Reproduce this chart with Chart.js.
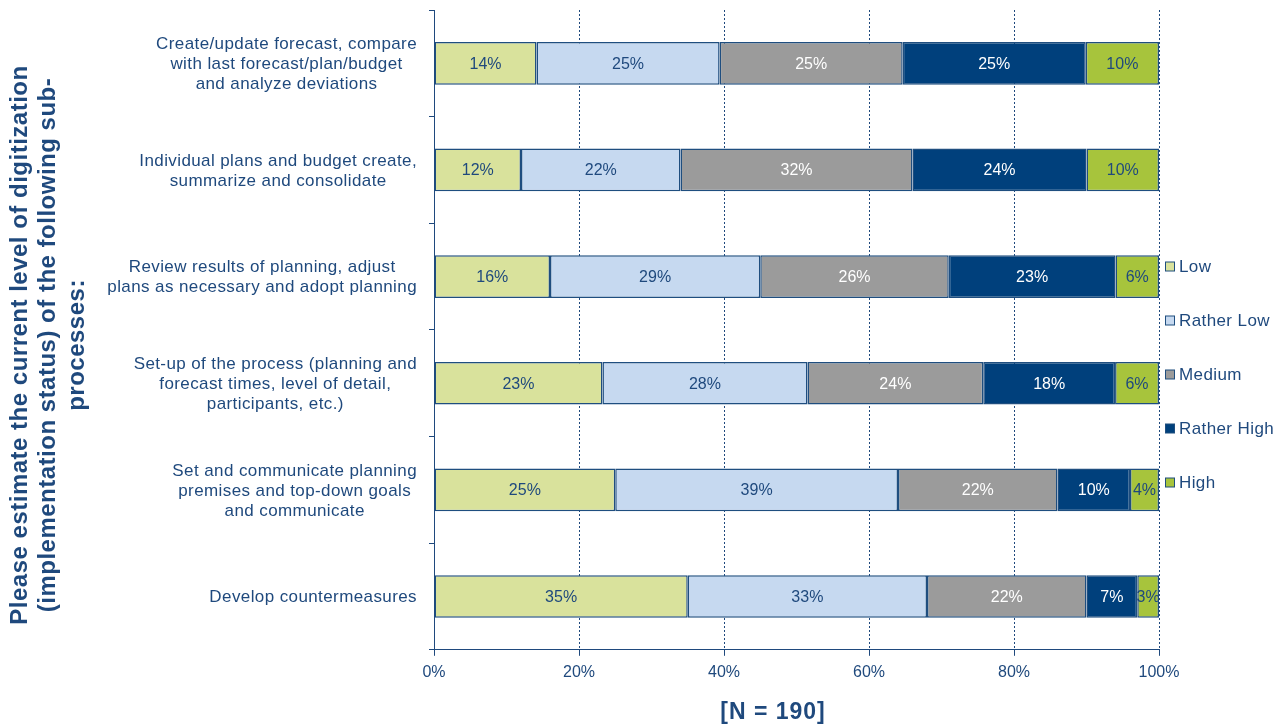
<!DOCTYPE html>
<html>
<head>
<meta charset="utf-8">
<script src="https://cdn.jsdelivr.net/npm/chart.js@4.4.1/dist/chart.umd.min.js"></script>
<style>
  html, body { margin: 0; padding: 0; background: #fff; }
  #wrap { width: 1287px; height: 726px; }
</style>
</head>
<body>
<div id="wrap"><canvas id="chart" width="1287" height="726"></canvas></div>
<script>
// categories (top to bottom), multi-line labels
const categories = [
  ['Create/update forecast, compare', 'with last forecast/plan/budget', 'and analyze deviations'],
  ['Individual plans and budget create,', 'summarize and consolidate'],
  ['Review results of planning, adjust', 'plans as necessary and adopt planning'],
  ['Set-up of the process (planning and', 'forecast times, level of detail,', 'participants, etc.)'],
  ['Set and communicate planning', 'premises and top-down goals', 'and communicate'],
  ['Develop countermeasures']
];
const seriesNames = ['Low', 'Rather Low', 'Medium', 'Rather High', 'High'];

// percentages as printed on the bars
const lowValues = [14, 12, 16, 23, 25, 35];
const ratherLowValues = [25, 22, 29, 28, 39, 33];
const mediumValues = [25, 32, 26, 24, 22, 22];
const ratherHighValues = [25, 24, 23, 18, 10, 7];
const highValues = [10, 10, 6, 6, 4, 3];

const xTicks = [0, 20, 40, 60, 80, 100];
const yTitle = [
  'Please estimate the current level of digitization',
  '(implementation status) of the following sub-',
  'processes:'
];
const xTitle = '[N = 190]';

const textBlue = '#1f497d';
const lineBlue = '#1f497d';
const seriesColors = ['#d9e29c', '#c6d9f0', '#9b9b9b', '#00407c', '#a7c43c'];
const labelColors = [textBlue, textBlue, '#ffffff', '#ffffff', textBlue];
const FONT = '"Liberation Sans", Arial, sans-serif';

const allSeries = [lowValues, ratherLowValues, mediumValues, ratherHighValues, highValues];
// 100% stacked: each row scaled to its total
const rowTotals = categories.map((c, i) => allSeries.reduce((s, arr) => s + arr[i], 0));

const datasets = allSeries.map((arr, k) => ({
  label: seriesNames[k],
  data: arr.map((v, i) => v / rowTotals[i] * 100),
  raw: arr,
  backgroundColor: seriesColors[k],
  borderColor: '#1f4e7f',
  borderWidth: 1.5,
  borderSkipped: false,
  barPercentage: 0.4,
  categoryPercentage: 1.0
}));

const customText = {
  id: 'customText',
  afterDatasetsDraw(chart) {
    const ctx = chart.ctx;
    ctx.save();
    ctx.font = '16px ' + FONT;
    ctx.textAlign = 'center';
    ctx.textBaseline = 'middle';
    chart.data.datasets.forEach((ds, k) => {
      const meta = chart.getDatasetMeta(k);
      ctx.fillStyle = labelColors[k];
      meta.data.forEach((el, i) => {
        const cx = (el.x + el.base) / 2;
        ctx.fillText(ds.raw[i] + '%', cx, el.y + 1);
      });
    });
    ctx.restore();
  },
  afterDraw(chart) {
    const ctx = chart.ctx;
    const yScale = chart.scales.y;
    ctx.save();
    ctx.fillStyle = textBlue;
    ctx.textBaseline = 'middle';

    // category labels: right-aligned block, centred lines
    ctx.font = '17px ' + FONT;
    ctx.letterSpacing = '0.4px';
    ctx.textAlign = 'center';
    categories.forEach((lines, i) => {
      const yc = yScale.getPixelForTick(i);
      const maxW = Math.max(...lines.map(l => ctx.measureText(l).width));
      const cx = 417 - maxW / 2;
      lines.forEach((l, j) => {
        ctx.fillText(l, cx, yc + 1 + (j - (lines.length - 1) / 2) * 20);
      });
    });

    // legend
    ctx.textAlign = 'left';
    seriesNames.forEach((name, k) => {
      const y = 266.5 + k * 54;
      ctx.fillStyle = seriesColors[k];
      ctx.fillRect(1165.5, y - 4.5, 9, 9);
      ctx.strokeStyle = '#1f4e7f';
      ctx.lineWidth = 1;
      ctx.strokeRect(1165.5, y - 4.5, 9, 9);
      ctx.fillStyle = textBlue;
      ctx.fillText(name, 1179, y + 1);
    });

    // x title
    ctx.font = 'bold 23px ' + FONT;
    ctx.letterSpacing = '1px';
    ctx.textAlign = 'center';
    ctx.fillText(xTitle, 773, 713);

    // y title, rotated
    ctx.font = 'bold 24px ' + FONT;
    ctx.letterSpacing = '0.5px';
    yTitle.forEach((t, j) => {
      ctx.save();
      ctx.translate(20 + j * 28.5, 345);
      ctx.rotate(-Math.PI / 2);
      ctx.fillText(t, 0, 0);
      ctx.restore();
    });
    ctx.restore();
  }
};

new Chart(document.getElementById('chart'), {
  type: 'bar',
  data: { labels: categories, datasets: datasets },
  options: {
    indexAxis: 'y',
    responsive: false,
    animation: false,
    devicePixelRatio: 1,
    layout: { padding: { top: 10, right: 128, bottom: 37, left: 0 } },
    plugins: {
      legend: { display: false },
      tooltip: { enabled: false }
    },
    scales: {
      x: {
        stacked: true,
        min: 0,
        max: 100,
        afterBuildTicks(scale) {
          scale.ticks = xTicks.map(v => ({ value: v }));
        },
        ticks: {
          callback: v => v + '%',
          color: textBlue,
          font: { family: FONT, size: 16 },
          padding: 7
        },
        grid: {
          color: lineBlue,
          lineWidth: 1,
          tickLength: 6,
          tickBorderDash: []
        },
        border: { display: true, color: lineBlue, width: 1, dash: [2, 2] }
      },
      y: {
        stacked: true,
        afterFit(scale) { scale.width = 434; },
        ticks: { display: false },
        grid: {
          drawOnChartArea: false,
          drawTicks: true,
          tickLength: 5,
          color: lineBlue
        },
        border: { display: true, color: lineBlue, width: 1 }
      }
    }
  },
  plugins: [customText]
});
</script>
</body>
</html>
